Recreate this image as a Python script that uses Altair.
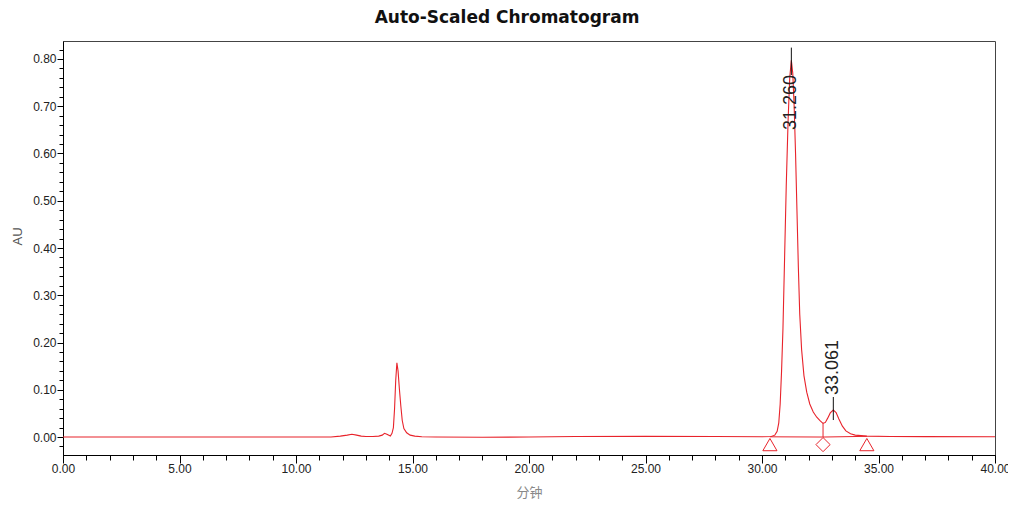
import altair as alt
import pandas as pd

# ---- data ----
time_min = [0.0, 5.0, 10.0, 11.5, 11.9, 12.2, 12.4, 12.6, 12.8, 13.0, 13.3, 13.55, 13.7, 13.8, 13.9,
            14.05, 14.12, 14.18, 14.23, 14.28, 14.33, 14.38, 14.44, 14.5, 14.56, 14.63, 14.75, 14.9,
            15.1, 15.4, 16.0, 18.0, 20.0, 22.0, 25.0, 28.0, 30.0, 30.4, 30.55, 30.65, 30.72, 30.78,
            30.84, 30.9, 30.97, 31.04, 31.12, 31.19, 31.26, 31.32, 31.38, 31.44, 31.5, 31.56, 31.62,
            31.7, 31.8, 31.92, 32.05, 32.2, 32.35, 32.5, 32.62, 32.72, 32.82, 32.93, 33.06, 33.18,
            33.3, 33.45, 33.6, 33.8, 34.0, 34.5, 35.5, 37.0, 40.0]
au = [0.0, 0.0, 0.0, 0.0, 0.002, 0.004, 0.006, 0.004, 0.002, 0.001, 0.001, 0.002, 0.004, 0.008, 0.006,
      0.002, 0.008, 0.02, 0.06, 0.12, 0.157, 0.14, 0.10, 0.065, 0.035, 0.018, 0.009, 0.004,
      0.002, 0.0005, 0.0, -0.0005, 0.0, 0.001, 0.0015, 0.001, 0.0005, 0.001, 0.004, 0.012, 0.03, 0.07,
      0.14, 0.23, 0.38, 0.53, 0.67, 0.76, 0.797, 0.77, 0.70, 0.60, 0.48, 0.36, 0.26,
      0.185, 0.13, 0.095, 0.07, 0.053, 0.042, 0.034, 0.029, 0.031, 0.04, 0.051, 0.057, 0.052,
      0.038, 0.023, 0.013, 0.007, 0.004, 0.002, 0.0012, 0.0008, 0.0005]

base_t = [30.34, 32.62, 34.5]
base_y = [0.0005, 0.0, 0.0015]
marker_shape = ["triangle-up", "diamond", "triangle-up"]
marker_y = [-0.016, -0.016, -0.016]

drop_t = [32.62]
drop_y = [0.0]
drop_y2 = [0.029]

peak_labels = ["31.260", "33.061"]
peak_t = [31.26, 33.061]
label_start = [0.6455, 0.0847]
tick_top = [0.824, 0.0847]
tick_bottom = [0.766, 0.036]

x_major = [0, 5, 10, 15, 20, 25, 30, 35, 40]
x_minor = list(range(0, 41))
y_major = [0.0, 0.1, 0.2, 0.3, 0.4, 0.5, 0.6, 0.7, 0.8]
y_minor = [round(-0.02 + 0.02 * i, 2) for i in range(43)]

RED = "#e8232b"
XD = [0, 40]
YD = [-0.038, 0.838]

curve = pd.DataFrame({"t": time_min, "au": au})
base = pd.DataFrame({"t": base_t, "au": base_y, "m": marker_y, "shape": marker_shape})
drop = pd.DataFrame({"t": drop_t, "y": drop_y, "y2": drop_y2})
labels = pd.DataFrame({"t": peak_t, "lab": peak_labels, "ys": label_start,
                       "top": tick_top, "bot": tick_bottom})

xs = alt.Scale(domain=XD, nice=False, zero=False)
ys = alt.Scale(domain=YD, nice=False, zero=False)

lab_font = "Liberation Sans"

line = alt.Chart(curve).mark_line(color=RED, strokeWidth=1.1).encode(
    x=alt.X("t:Q", scale=xs, axis=alt.Axis(
        orient="bottom", values=x_major, format=".2f", tickSize=8, labelPadding=0,
        grid=False, domainColor="#000", tickColor="#000", labelColor="#222",
        labelFont=lab_font, labelFontSize=12, labelFlush=False,
        title="分钟", titleFont="Noto Sans CJK SC", titleFontSize=13, titleFontWeight="normal",
        titleColor="#888", titleY=37, titleBaseline="middle")),
    y=alt.Y("au:Q", scale=ys, axis=alt.Axis(
        orient="left", values=y_major, format=".2f", tickSize=6, labelPadding=1,
        grid=False, domainColor="#000", tickColor="#000", labelColor="#222",
        labelFont=lab_font, labelFontSize=12, labelFlush=False,
        title="AU", titleFont=lab_font, titleFontSize=13, titleFontWeight="normal",
        titleColor="#555", titleX=-46, titleY=195, titleAngle=270,
        titleAlign="center", titleBaseline="middle")),
)

baseline = alt.Chart(base).mark_line(color=RED, strokeWidth=1).encode(
    x=alt.X("t:Q", scale=xs, axis=alt.Axis(
        orient="bottom", values=x_minor, tickSize=5, labels=False, domain=False,
        grid=False, tickColor="#000", title="")),
    y=alt.Y("au:Q", scale=ys, axis=alt.Axis(
        orient="left", values=y_minor, tickSize=4, labels=False, domain=False,
        grid=False, tickColor="#000", title="")),
)

markers = alt.Chart(base).mark_point(color=RED, filled=False, strokeWidth=1, size=200, opacity=1).encode(
    x=alt.X("t:Q", scale=xs, axis=None),
    y=alt.Y("m:Q", scale=ys, axis=None),
    shape=alt.Shape("shape:N", scale=None),
)

droprule = alt.Chart(drop).mark_rule(color=RED, strokeWidth=1).encode(
    x=alt.X("t:Q", scale=xs, axis=None),
    y=alt.Y("y:Q", scale=ys, axis=None),
    y2="y2:Q",
)

ticks = alt.Chart(labels).mark_rule(color="#111", strokeWidth=1).encode(
    x=alt.X("t:Q", scale=xs, axis=None),
    y=alt.Y("top:Q", scale=ys, axis=None),
    y2="bot:Q",
)

text = alt.Chart(labels).mark_text(
    angle=270, align="left", baseline="middle", fontSize=18, font=lab_font, color="#222", dx=2
).encode(
    x=alt.X("t:Q", scale=xs, axis=None),
    y=alt.Y("ys:Q", scale=ys, axis=None),
    text="lab:N",
)

chart = alt.layer(line, baseline, droprule, markers, ticks, text).resolve_axis(
    x="independent", y="independent"
).properties(
    width=932, height=414,
    autosize=alt.AutoSizeParams(type="none"),
    padding={"left": 55, "top": 33, "right": 13, "bottom": 45},
    title=alt.TitleParams("Auto-Scaled Chromatogram", font="DejaVu Sans", fontSize=17,
                          fontWeight="bold", color="#111", anchor="middle", dx=-22,
                          baseline="bottom", offset=-3),
).configure_view(stroke="#444", strokeWidth=1)

chart.save("out.html", embed_options={"renderer": "svg", "actions": False})
